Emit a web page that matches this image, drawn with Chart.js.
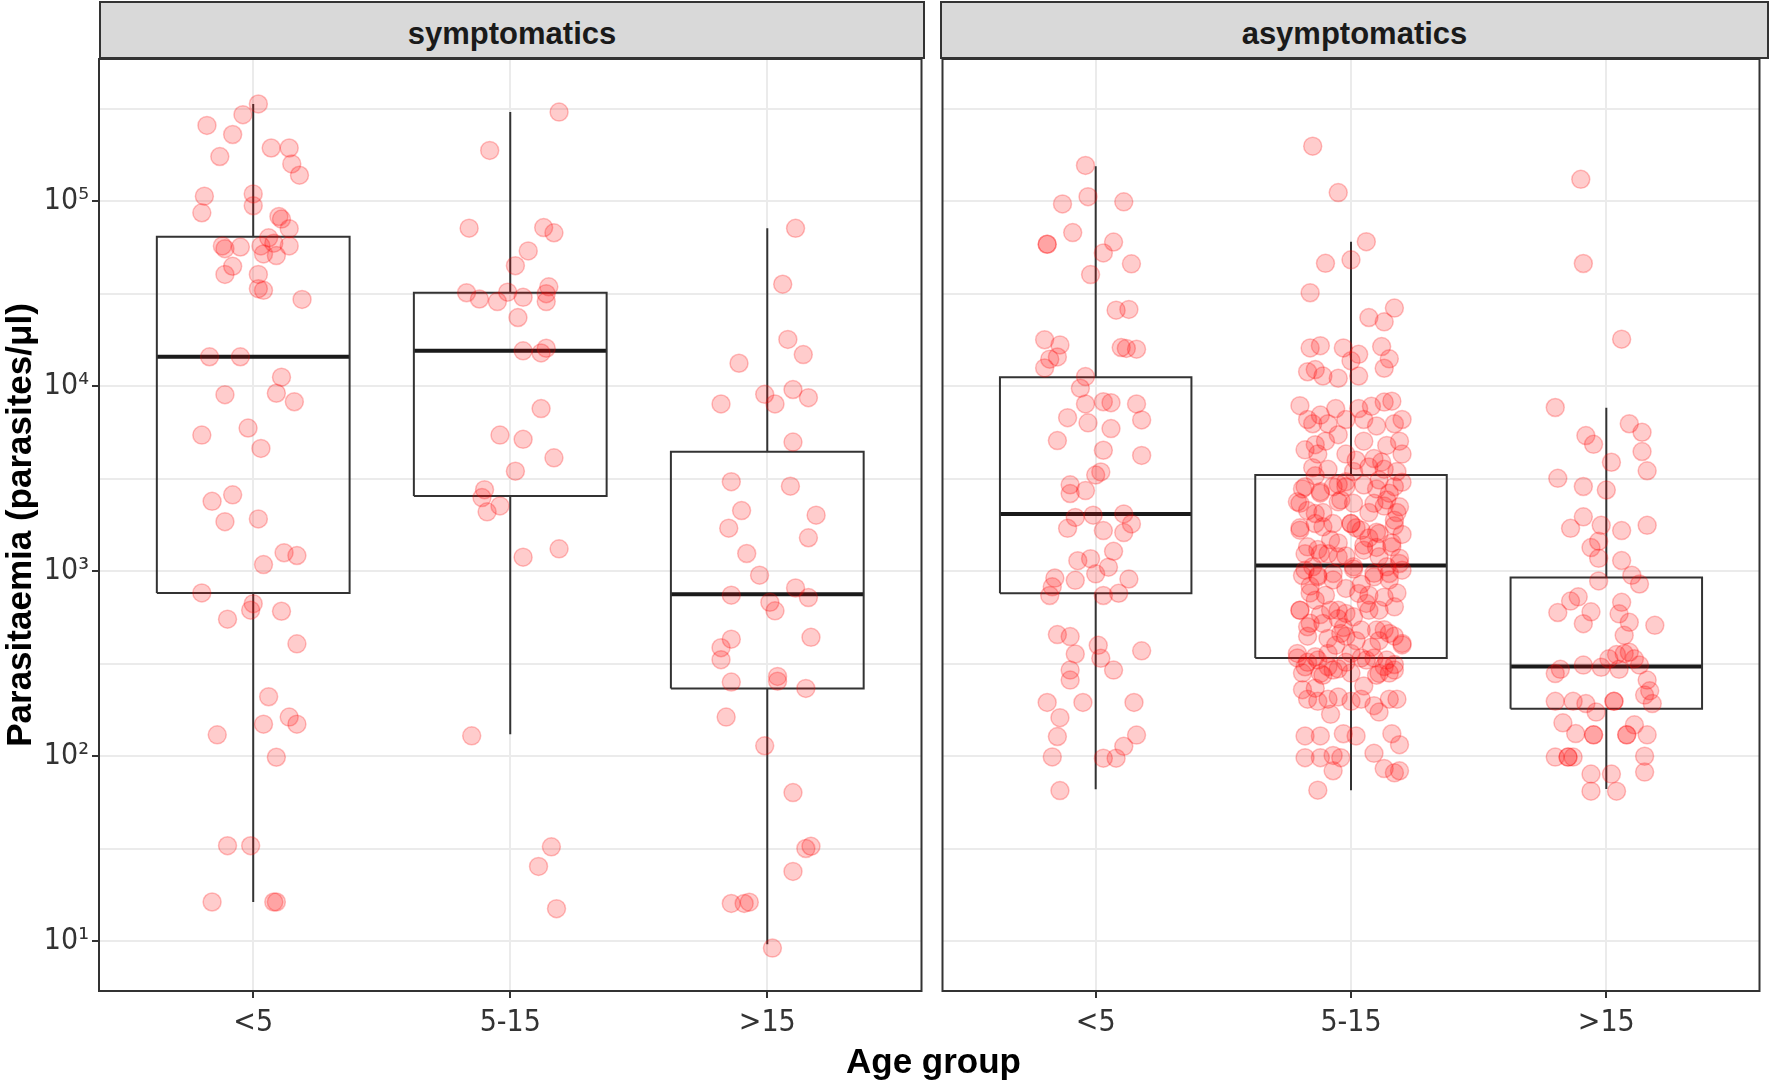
<!DOCTYPE html>
<html>
<head>
<meta charset="utf-8">
<script src="https://cdn.jsdelivr.net/npm/chart.js@4.4.1/dist/chart.umd.min.js"></script>
<style>
  body { margin: 0; background: #fff; width: 1770px; height: 1084px; position: relative; overflow: hidden;
         font-family: 'Liberation Sans', Arial, sans-serif; }
  canvas { position: absolute; top: 0; }
  #leftChart { left: 0; }
  #rightChart { left: 932px; }
  .strip { position: absolute; top: 1px; height: 58px; box-sizing: border-box; background: #d9d9d9;
           border: 2px solid #333; text-align: center; font-weight: bold; font-size: 31px;
           line-height: 54px; padding-top: 4px; color: #1a1a1a; }
  #xTitle { position: absolute; left: 99px; width: 1669px; top: 1043px; text-align: center;
            font-weight: bold; font-size: 35px; line-height: 35px; color: #000; }
</style>
</head>
<body>
<div class="strip" style="left:99px;width:826px;">symptomatics</div>
<div class="strip" style="left:940px;width:829px;">asymptomatics</div>
<canvas id="leftChart" width="932" height="1084"></canvas>
<canvas id="rightChart" width="838" height="1084"></canvas>
<div id="xTitle">Age group</div>
<script>
// categorie e tick
const ageGroups = ['<5', '5-15', '>15'];
const yMajor = [1, 2, 3, 4, 5];
const yMinor = [1.5, 2.5, 3.5, 4.5, 5.5];
const yTickLabels = ['10¹', '10²', '10³', '10⁴', '10⁵'];

// punti: [jitter orizzontale, log10 parassiti/µl]
const symLt5 = [[0.02,5.525],[-0.04,5.467],[-0.18,5.409],[-0.08,5.360],[-0.13,5.241],[0.07,5.287],[0.14,5.287],[0.15,5.201],[0.18,5.140],[-0.19,5.027],[-0.20,4.937],[0.00,5.039],[0.00,4.975],[0.10,4.917],[0.11,4.903],[0.14,4.851],[0.06,4.802],[-0.12,4.758],[-0.11,4.743],[-0.05,4.752],[0.03,4.758],[0.08,4.773],[0.14,4.758],[0.04,4.715],[0.09,4.706],[-0.08,4.648],[-0.11,4.604],[0.02,4.604],[0.02,4.527],[0.04,4.518],[0.19,4.469],[-0.17,4.159],[-0.05,4.159],[0.11,4.049],[0.09,3.962],[0.16,3.916],[-0.11,3.954],[-0.20,3.736],[-0.02,3.774],[0.03,3.664],[-0.16,3.378],[-0.08,3.413],[-0.11,3.268],[0.02,3.283],[0.04,3.036],[0.12,3.100],[0.17,3.085],[-0.20,2.883],[0.00,2.825],[-0.01,2.790],[-0.10,2.741],[0.11,2.784],[0.17,2.608],[0.06,2.322],[0.04,2.174],[-0.14,2.116],[0.14,2.212],[0.17,2.174],[0.09,1.995],[-0.10,1.517],[-0.01,1.517],[-0.16,1.213],[0.09,1.213],[0.08,1.213]];
const sym5to15 = [[0.19,5.481],[-0.08,5.274],[-0.16,4.854],[0.13,4.857],[0.17,4.829],[0.07,4.731],[0.02,4.651],[-0.17,4.505],[-0.12,4.471],[-0.05,4.457],[-0.01,4.508],[0.05,4.480],[0.15,4.537],[0.14,4.500],[0.14,4.457],[0.03,4.371],[0.05,4.191],[0.12,4.180],[0.14,4.205],[0.12,3.879],[-0.04,3.736],[0.05,3.713],[0.17,3.613],[0.02,3.541],[-0.10,3.441],[-0.11,3.398],[-0.09,3.321],[-0.04,3.353],[0.05,3.076],[0.19,3.121],[-0.15,2.111],[0.16,1.511],[0.11,1.405],[0.18,1.177]];
const symGt15 = [[0.11,4.853],[0.06,4.551],[0.08,4.253],[0.14,4.171],[-0.11,4.124],[-0.18,3.904],[-0.01,3.956],[0.03,3.904],[0.10,3.982],[0.16,3.938],[0.10,3.698],[-0.14,3.484],[0.09,3.460],[-0.10,3.328],[0.19,3.303],[-0.15,3.233],[0.16,3.181],[-0.08,3.096],[-0.03,2.979],[-0.14,2.871],[0.01,2.832],[0.03,2.786],[0.11,2.910],[0.16,2.858],[-0.14,2.633],[-0.18,2.587],[-0.18,2.522],[0.17,2.643],[-0.14,2.401],[0.04,2.432],[0.04,2.406],[0.15,2.367],[-0.16,2.212],[-0.01,2.057],[0.10,1.804],[0.15,1.502],[0.17,1.514],[0.10,1.378],[-0.14,1.205],[-0.09,1.205],[-0.07,1.212],[0.02,0.964]];
const asymLt5 = [[-0.04,5.193],[-0.13,4.985],[-0.03,5.024],[0.11,4.996],[-0.09,4.830],[-0.19,4.767],[-0.19,4.767],[0.07,4.779],[0.03,4.720],[0.14,4.661],[-0.02,4.603],[0.08,4.411],[0.13,4.415],[-0.20,4.251],[-0.14,4.223],[-0.18,4.146],[-0.15,4.158],[-0.20,4.099],[0.10,4.209],[0.12,4.204],[0.16,4.200],[-0.04,4.052],[-0.06,3.989],[-0.04,3.904],[0.03,3.916],[0.06,3.911],[0.16,3.904],[-0.11,3.830],[-0.03,3.802],[0.06,3.771],[0.18,3.818],[-0.15,3.706],[0.03,3.654],[0.18,3.626],[0.00,3.520],[0.02,3.537],[-0.10,3.467],[-0.04,3.436],[-0.10,3.420],[-0.08,3.291],[-0.01,3.303],[0.03,3.220],[0.11,3.310],[0.14,3.256],[-0.11,3.232],[0.11,3.209],[-0.07,3.057],[-0.02,3.068],[0.07,3.108],[0.05,3.022],[0.00,2.986],[-0.16,2.963],[-0.17,2.916],[-0.08,2.951],[0.13,2.958],[-0.18,2.869],[0.03,2.869],[0.09,2.881],[-0.15,2.658],[-0.10,2.647],[-0.08,2.553],[0.01,2.600],[0.02,2.530],[0.18,2.570],[-0.10,2.466],[-0.10,2.412],[0.07,2.466],[-0.19,2.291],[-0.05,2.291],[0.15,2.291],[-0.14,2.209],[-0.15,2.107],[0.16,2.115],[0.11,2.054],[-0.17,1.997],[0.03,1.990],[0.08,1.990],[-0.14,1.815]];
const asym5to15 = [[-0.15,5.297],[-0.05,5.046],[0.06,4.781],[0.00,4.683],[-0.10,4.664],[-0.16,4.505],[0.07,4.371],[0.13,4.348],[0.17,4.422],
  [-0.16,4.207],[-0.12,4.219],[-0.03,4.207],[0.03,4.172],[0.12,4.214],[0.15,4.148],[-0.17,4.078],[-0.11,4.055],[-0.05,4.043],[0.03,4.055],[0.13,4.097],[-0.14,4.090],[0.00,4.137],
  [-0.20,3.895],[-0.17,3.820],[-0.12,3.844],[-0.06,3.879],[-0.02,3.820],[0.03,3.879],[0.08,3.891],[0.13,3.914],[0.16,3.919],[0.20,3.820],[-0.15,3.797],[-0.09,3.797],[0.05,3.820],[0.10,3.785],[0.17,3.797],
  [-0.18,3.656],[-0.14,3.684],[-0.10,3.703],[-0.05,3.738],[-0.02,3.633],[0.05,3.703],[0.14,3.680],[0.19,3.703],[0.20,3.633],[-0.13,3.633],[0.09,3.609],
  [-0.19,3.445],[-0.14,3.516],[-0.09,3.551],[-0.05,3.469],[0.01,3.539],[0.07,3.563],[0.13,3.551],[0.18,3.539],[0.20,3.481],[-0.21,3.375],[-0.12,3.422],[-0.02,3.457],[0.10,3.445],[0.15,3.422],
  [-0.17,3.328],[-0.11,3.317],[-0.05,3.375],[0.00,3.258],[0.02,3.235],[0.07,3.317],[0.13,3.352],[0.18,3.317],[-0.20,3.235],[-0.14,3.258],[-0.07,3.258],[0.10,3.211],[0.17,3.246],[0.20,3.199],
  [-0.18,3.094],[-0.13,3.117],[-0.09,3.094],[-0.05,3.153],[-0.02,3.082],[0.05,3.141],[0.10,3.129],[0.16,3.153],[0.19,3.071],[-0.15,3.024],[0.01,3.012],[0.14,3.024],
  [-0.19,2.977],[-0.13,2.977],[-0.07,2.953],[-0.02,2.907],[0.04,2.930],[0.09,2.989],[0.15,2.953],[0.18,2.883],[-0.16,2.883],[-0.10,2.871],[0.07,2.871],
  [-0.20,2.789],[-0.16,2.719],[-0.12,2.766],[-0.05,2.743],[-0.03,2.696],[0.01,2.754],[0.07,2.789],[0.13,2.684],[0.17,2.649],[0.20,2.602],[-0.17,2.649],[-0.09,2.637],[0.02,2.625],[0.11,2.625],[-0.05,2.789],[-0.02,2.649],
  [-0.21,2.532],[-0.17,2.508],[-0.13,2.520],[-0.09,2.485],[-0.05,2.473],[-0.02,2.508],[0.04,2.532],[0.09,2.532],[0.13,2.485],[0.17,2.496],[-0.19,2.450],[-0.11,2.438],[0.00,2.450],[0.10,2.438],[0.15,2.450],
  [-0.17,2.309],[-0.13,2.297],[-0.09,2.309],[-0.05,2.321],[0.00,2.297],[0.04,2.309],[0.09,2.274],[0.15,2.309],[0.18,2.309],[-0.14,2.368],[0.11,2.239],[-0.08,2.227],
  [-0.18,2.110],[-0.12,2.110],[-0.03,2.122],[0.02,2.110],[0.16,2.122],[0.19,2.063],
  [-0.18,1.993],[-0.12,1.993],[-0.07,2.005],[-0.04,1.993],[0.09,2.016],[0.13,1.934],[0.17,1.911],[0.19,1.922],[-0.07,1.922],[-0.13,1.817],
  [-0.18,3.457],[-0.12,3.430],[-0.07,3.457],[-0.02,3.484],[0.05,3.466],[0.11,3.493],[0.17,3.457],[-0.20,3.367],[-0.14,3.312],[-0.04,3.385],[0.01,3.367],[0.09,3.367],[0.14,3.385],[0.19,3.348],
  [-0.20,3.222],[-0.11,3.240],[0.00,3.258],[0.04,3.222],[0.11,3.204],[0.17,3.276],[-0.17,3.132],[-0.12,3.096],[-0.05,3.078],[0.05,3.114],[0.11,3.078],[0.16,3.132],[0.19,3.042],
  [-0.18,3.006],[-0.13,2.970],[-0.07,2.988],[0.01,3.024],[0.09,2.970],[0.15,2.988],[0.20,3.006],[-0.20,2.790],[-0.14,2.844],[-0.08,2.790],[-0.02,2.772],[0.06,2.826],[0.11,2.790],[0.17,2.808],
  [-0.17,2.700],[-0.11,2.718],[-0.04,2.664],[0.04,2.682],[0.10,2.682],[0.15,2.664],[0.20,2.610],[-0.21,2.556],[-0.14,2.538],[-0.09,2.556],[0.00,2.556],[0.06,2.520],[0.14,2.520],
  [-0.18,2.484],[-0.12,2.448],[-0.07,2.466],[0.11,2.448],[0.17,2.466],
  [-0.15,3.560],[0.02,3.600],[0.12,3.590],[-0.08,3.170],[0.07,3.180],[-0.16,2.920],[0.03,2.880],[0.13,2.860],[-0.06,2.600],[0.08,2.590],[-0.19,2.360],[0.05,2.380]];
const asymGt15 = [[-0.10,5.118],[-0.09,4.663],[0.06,4.254],[-0.20,3.885],[-0.08,3.733],[-0.05,3.686],[0.09,3.797],[0.14,3.751],[0.14,3.647],[0.16,3.543],[0.02,3.589],[-0.19,3.502],[-0.09,3.458],[0.00,3.439],[-0.09,3.294],[-0.14,3.232],[-0.02,3.248],[0.06,3.220],[0.16,3.248],[-0.06,3.128],[-0.03,3.162],[-0.03,3.070],[0.06,3.058],[0.10,2.978],[0.13,2.931],[-0.03,2.948],[-0.11,2.862],[-0.14,2.839],[-0.19,2.777],[-0.06,2.781],[-0.09,2.717],[0.06,2.832],[0.05,2.770],[0.09,2.724],[0.19,2.708],[0.07,2.654],[0.07,2.555],[0.01,2.527],[0.04,2.550],[0.09,2.562],[0.11,2.527],[-0.18,2.470],[-0.09,2.493],[-0.02,2.481],[0.05,2.470],[0.13,2.493],[-0.20,2.447],[0.16,2.412],[0.17,2.354],[-0.20,2.297],[-0.13,2.297],[-0.08,2.285],[0.03,2.297],[0.03,2.297],[0.15,2.331],[0.18,2.285],[-0.04,2.239],[-0.17,2.181],[-0.12,2.123],[-0.05,2.116],[-0.05,2.116],[0.08,2.116],[0.08,2.116],[0.16,2.116],[0.11,2.170],[-0.20,1.996],[-0.15,1.996],[-0.15,1.996],[-0.13,1.996],[0.15,2.001],[-0.06,1.904],[0.02,1.904],[0.15,1.915],[-0.06,1.812],[0.04,1.812]];

// statistiche dei box (log10): baffo basso, Q1, mediana, Q3, baffo alto
const symLow = [1.213, 2.120, 0.985];
const symQ1 = [2.883, 3.407, 2.367];
const symMed = [4.159, 4.191, 2.876];
const symQ3 = [4.807, 4.505, 3.646];
const symHigh = [5.525, 5.481, 4.853];
const asymLow = [1.822, 1.817, 1.823];
const asymQ1 = [2.881, 2.532, 2.257];
const asymMed = [3.310, 3.031, 2.486];
const asymQ3 = [4.048, 3.520, 2.966];
const asymHigh = [5.189, 4.781, 3.883];

Chart.defaults.font.family = "'Liberation Sans', Arial, sans-serif";
const tickFont = { family: "'Liberation Sans Narrow', 'DejaVu Sans Condensed', 'Liberation Sans', sans-serif", size: 30 };

// mette i punti di ogni gruppo attorno alla sua categoria
function buildPoints(groups) {
    const pts = [];
    groups.forEach((g, i) => g.forEach(([j, v]) => pts.push({ x: i + 1 + j, y: v })));
    return pts;
}

// contorno dei box + baffi, con null per staccare i segmenti
function buildOutline(low, q1, q3, high) {
    const hw = 0.375;
    const out = [];
    for (let i = 0; i < q1.length; i++) {
        const c = i + 1;
        out.push({ x: c - hw, y: q1[i] }, { x: c - hw, y: q3[i] }, { x: c + hw, y: q3[i] },
                 { x: c + hw, y: q1[i] }, { x: c - hw, y: q1[i] }, { x: c, y: null });
        out.push({ x: c, y: q3[i] }, { x: c, y: high[i] }, { x: c, y: null });
        out.push({ x: c, y: q1[i] }, { x: c, y: low[i] }, { x: c, y: null });
    }
    return out;
}

function buildMedians(med) {
    const out = [];
    med.forEach((m, i) => out.push({ x: i + 0.625, y: m }, { x: i + 1.375, y: m }, { x: i + 1, y: null }));
    return out;
}

// bordo del pannello sopra a tutto
const panelBorder = {
    id: 'panelBorder',
    afterDraw(chart) {
        const a = chart.chartArea;
        const ctx = chart.ctx;
        ctx.save();
        ctx.strokeStyle = '#333';
        ctx.lineWidth = 2;
        ctx.strokeRect(a.left, a.top, a.right - a.left, a.bottom - a.top);
        ctx.restore();
    }
};

function drawPanel(canvasId, groups, low, q1, med, q3, high, showY) {
    return new Chart(document.getElementById(canvasId), {
        type: 'scatter',
        data: {
            datasets: [
                {
                    data: buildPoints(groups),
                    order: 0,
                    pointRadius: 9,
                    pointBackgroundColor: 'rgba(255, 0, 0, 0.2)',
                    pointBorderColor: 'rgba(255, 0, 0, 0.25)',
                    pointBorderWidth: 1.5
                },
                {
                    data: buildOutline(low, q1, q3, high),
                    order: 1,
                    showLine: true,
                    spanGaps: false,
                    borderColor: '#333',
                    borderWidth: 2,
                    pointRadius: 0
                },
                {
                    data: buildMedians(med),
                    order: 1,
                    showLine: true,
                    spanGaps: false,
                    borderColor: '#1a1a1a',
                    borderWidth: 4,
                    pointRadius: 0
                }
            ]
        },
        options: {
            responsive: false,
            animation: false,
            events: [],
            layout: { padding: showY ? { left: 0, right: 8, top: 59, bottom: 0 } : { left: 8, right: 2, top: 59, bottom: 0 } },
            plugins: { legend: { display: false }, tooltip: { enabled: false } },
            scales: {
                x: {
                    type: 'linear',
                    min: 0.4,
                    max: 3.6,
                    afterBuildTicks: s => { s.ticks = ageGroups.map((_, i) => ({ value: i + 1 })); },
                    afterFit: s => { s.height = 93; },
                    border: { display: false },
                    grid: { color: '#ebebeb', lineWidth: 2, tickColor: '#333', tickLength: 7, tickWidth: 2 },
                    ticks: {
                        autoSkip: false, maxRotation: 0, padding: 7, color: '#333', font: tickFont,
                        callback: v => ageGroups[v - 1]
                    }
                },
                y: {
                    type: 'linear',
                    min: 0.732,
                    max: 5.768,
                    afterBuildTicks: s => {
                        s.ticks = yMajor.concat(yMinor).sort((a, b) => a - b).map(v => ({ value: v }));
                    },
                    afterFit: s => { s.width = showY ? 99 : 0; },
                    border: { display: false },
                    title: {
                        display: showY,
                        text: 'Parasitaemia (parasites/μl)',
                        font: { size: 35, weight: 'bold' },
                        color: '#000',
                        padding: { top: 0, bottom: 0 }
                    },
                    grid: {
                        color: '#ebebeb',
                        lineWidth: 2,
                        drawTicks: showY,
                        tickLength: 7,
                        tickWidth: 2,
                        tickColor: c => yMajor.includes(c.tick.value) ? '#333' : 'rgba(0,0,0,0)'
                    },
                    ticks: {
                        display: showY, autoSkip: false, padding: 3, color: '#333', font: tickFont,
                        callback: v => { const k = yMajor.indexOf(v); return k >= 0 ? yTickLabels[k] : ''; }
                    }
                }
            }
        },
        plugins: [panelBorder]
    });
}

drawPanel('leftChart', [symLt5, sym5to15, symGt15], symLow, symQ1, symMed, symQ3, symHigh, true);
drawPanel('rightChart', [asymLt5, asym5to15, asymGt15], asymLow, asymQ1, asymMed, asymQ3, asymHigh, false);
</script>
</body>
</html>
